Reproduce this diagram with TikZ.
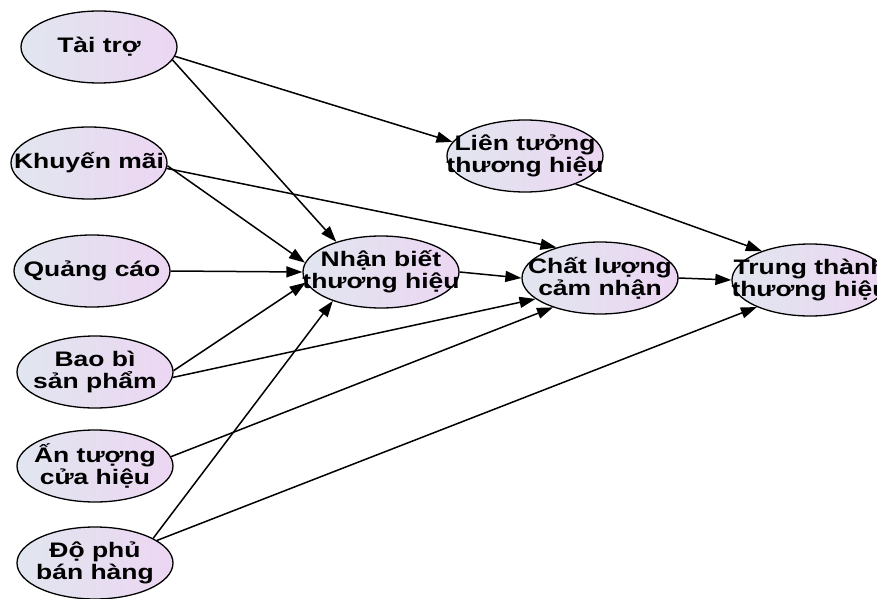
\documentclass[tikz,border=0pt]{standalone}
\usepackage{fontspec}
\newfontfamily\nodefont{Liberation Sans}[FakeStretch=1.26]
\usetikzlibrary{shapes.geometric,arrows.meta}
\definecolor{ovalleft}{RGB}{225,230,239}
\definecolor{ovalright}{RGB}{236,214,242}
\tikzset{
  factor/.style={ellipse, draw=black, line width=1.3pt, left color=ovalleft, right color=ovalright,
    minimum width=156pt, minimum height=72pt, inner xsep=-30pt, inner ysep=0pt,
    align=center, font=\nodefont\bfseries\fontsize{21}{22}\selectfont},
  link/.style={line width=1.5pt, -{Triangle[length=16pt,width=11pt]}}
}
\begin{document}
\begin{tikzpicture}[x=1pt,y=1pt]
	\useasboundingbox (0,0) rectangle (877,598);
	% cac yeu to dau vao
	\node[factor] (tai) at (99,551) {Tài trợ};
	\node[factor] (khuyen) at (89,435) {Khuyến mãi};
	\node[factor] (quang) at (92,327) {Quảng cáo};
	\node[factor] (baobi) at (95,226) {Bao bì\\sản phẩm};
	\node[factor] (antuong) at (95,132) {Ấn tượng\\cửa hiệu};
	\node[factor] (dophu) at (95,35) {Độ phủ\\bán hàng};
	% thanh phan thuong hieu
	\node[factor] (nhanbiet) at (381,326) {Nhận biết\\thương hiệu};
	\node[factor] (lientuong) at (525,442) {Liên tưởng\\thương hiệu};
	\node[factor] (chatluong) at (600,320) {Chất lượng\\cảm nhận};
	\node[factor] (trungthanh) at (810,318) {Trung thành\\thương hiệu};
	% cac moi quan he
	\draw[link] (tai.353) -- (lientuong.169);
	\draw[link] (tai.350) -- (nhanbiet.146);
	\draw[link] (khuyen.358) -- (nhanbiet.173);
	\draw[link] (khuyen.356) -- (chatluong.145);
	\draw[link] (quang.east) -- (nhanbiet.west);
	\draw[link] (baobi.1) -- (nhanbiet.188);
	\draw[link] (baobi.356) -- (chatluong.198);
	\draw[link] (antuong.7) -- (chatluong.212);
	\draw[link] (dophu.23) -- (nhanbiet.211);
	\draw[link] (dophu.20) -- (trungthanh.207);
	\draw[link] (nhanbiet.east) -- (chatluong.west);
	\draw[link] (lientuong.331) -- (trungthanh.149);
	\draw[link] (chatluong.east) -- (trungthanh.west);
\end{tikzpicture}
\end{document}
